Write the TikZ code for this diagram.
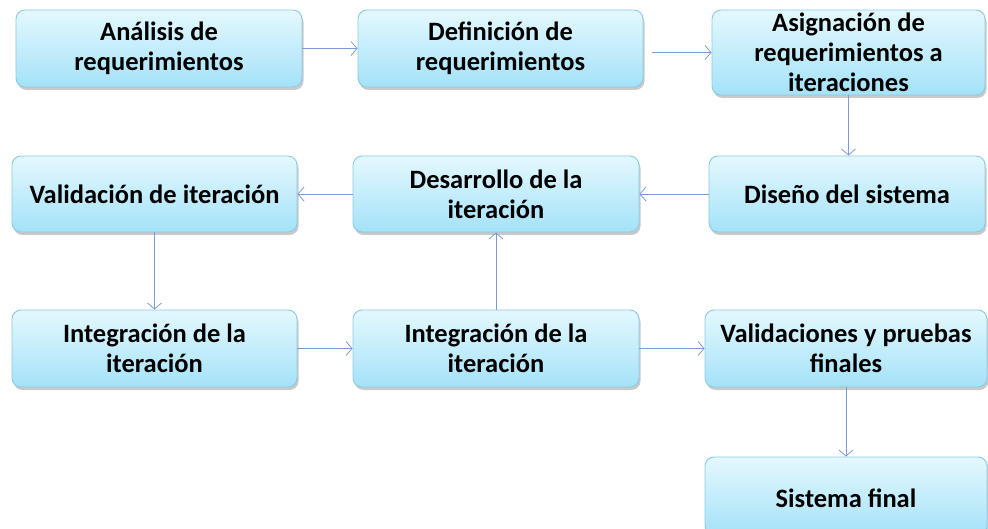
\documentclass[tikz,border=0pt]{standalone}
\usepackage{fontspec}
\setmainfont{Carlito}
\usetikzlibrary{arrows.meta,shadows}
\definecolor{boxtop}{HTML}{E4F8FE}
\definecolor{boxbot}{HTML}{A4E2F8}
\definecolor{boxline}{HTML}{8ACBE4}
\definecolor{arrowc}{HTML}{7E9CD4}
\tikzset{
  box/.style={draw=boxline, line width=0.9pt, rounded corners=9pt,
    top color=boxtop, bottom color=boxbot,
    drop shadow={shadow xshift=1.5pt, shadow yshift=-3pt, opacity=0.3, fill=black!70},
    inner sep=0pt},
  txt/.style={align=center, font=\fontsize{26.5}{30}\selectfont\bfseries, inner sep=0pt},
  conn/.style={draw=arrowc, line width=0.8pt, -{Straight Barb[length=6pt,width=14pt,line width=0.8pt]}}
}
\begin{document}
\begin{tikzpicture}[x=1pt,y=-1pt]
\useasboundingbox (0,0) rectangle (988,529);
% row 1
\node[box, minimum width=286pt, minimum height=77pt] (n1) at (159,48.5) {};
\node[txt] (t1) at (n1) {Análisis de\\requerimientos};
\node[box, minimum width=285pt, minimum height=77pt] (n2) at (500.5,48.5) {};
\node[txt] (t2) at (n2) {Definición de\\requerimientos};
\node[box, minimum width=273pt, minimum height=85pt] (n3) at (848.5,52.5) {};
\node[txt] (t3) at (n3) {Asignación de\\requerimientos a\\iteraciones};
% row 2
\node[box, minimum width=285pt, minimum height=76pt] (v1) at (154.5,194) {};
\node[txt] (tv1) at (v1) {Validación de iteración};
\node[box, minimum width=286pt, minimum height=76pt] (d1) at (496,194) {};
\node[txt] (td1) at (d1) {Desarrollo de la\\iteración};
\node[box, minimum width=276pt, minimum height=76pt] (s1) at (847,194) {};
\node[txt] (ts1) at (s1) {Diseño del sistema};
% row 3
\node[box, minimum width=285pt, minimum height=77pt] (i1) at (154.5,348.5) {};
\node[txt] (ti1) at (i1) {Integración de la\\iteración};
\node[box, minimum width=286pt, minimum height=77pt] (i2) at (496,348.5) {};
\node[txt] (ti2) at (i2) {Integración de la\\iteración};
\node[box, minimum width=282pt, minimum height=77pt] (vf) at (846,348.5) {};
\node[txt] (tvf) at (vf) {Validaciones y pruebas\\finales};
% row 4
\node[box, minimum width=282pt, minimum height=78pt] (sf) at (846,496) {};
\node[txt] (tsf) at ([yshift=-2pt]sf.center) {Sistema final};
% connectors
\draw[conn] (n1.east) -- (n2.west);
\draw[conn, shorten <=9pt] (n2.east |- n3.west) -- (n3.west);
\draw[conn] (n3.south) -- (s1.north -| n3.south);
\draw[conn] (s1.west) -- (d1.east);
\draw[conn] (d1.west) -- (v1.east);
\draw[conn] (v1.south) -- (i1.north);
\draw[conn] (i1.east) -- (i2.west);
\draw[conn] (i2.north) -- (d1.south);
\draw[conn] (i2.east) -- (vf.west);
\draw[conn] (vf.south) -- (sf.north);
\end{tikzpicture}
\end{document}
